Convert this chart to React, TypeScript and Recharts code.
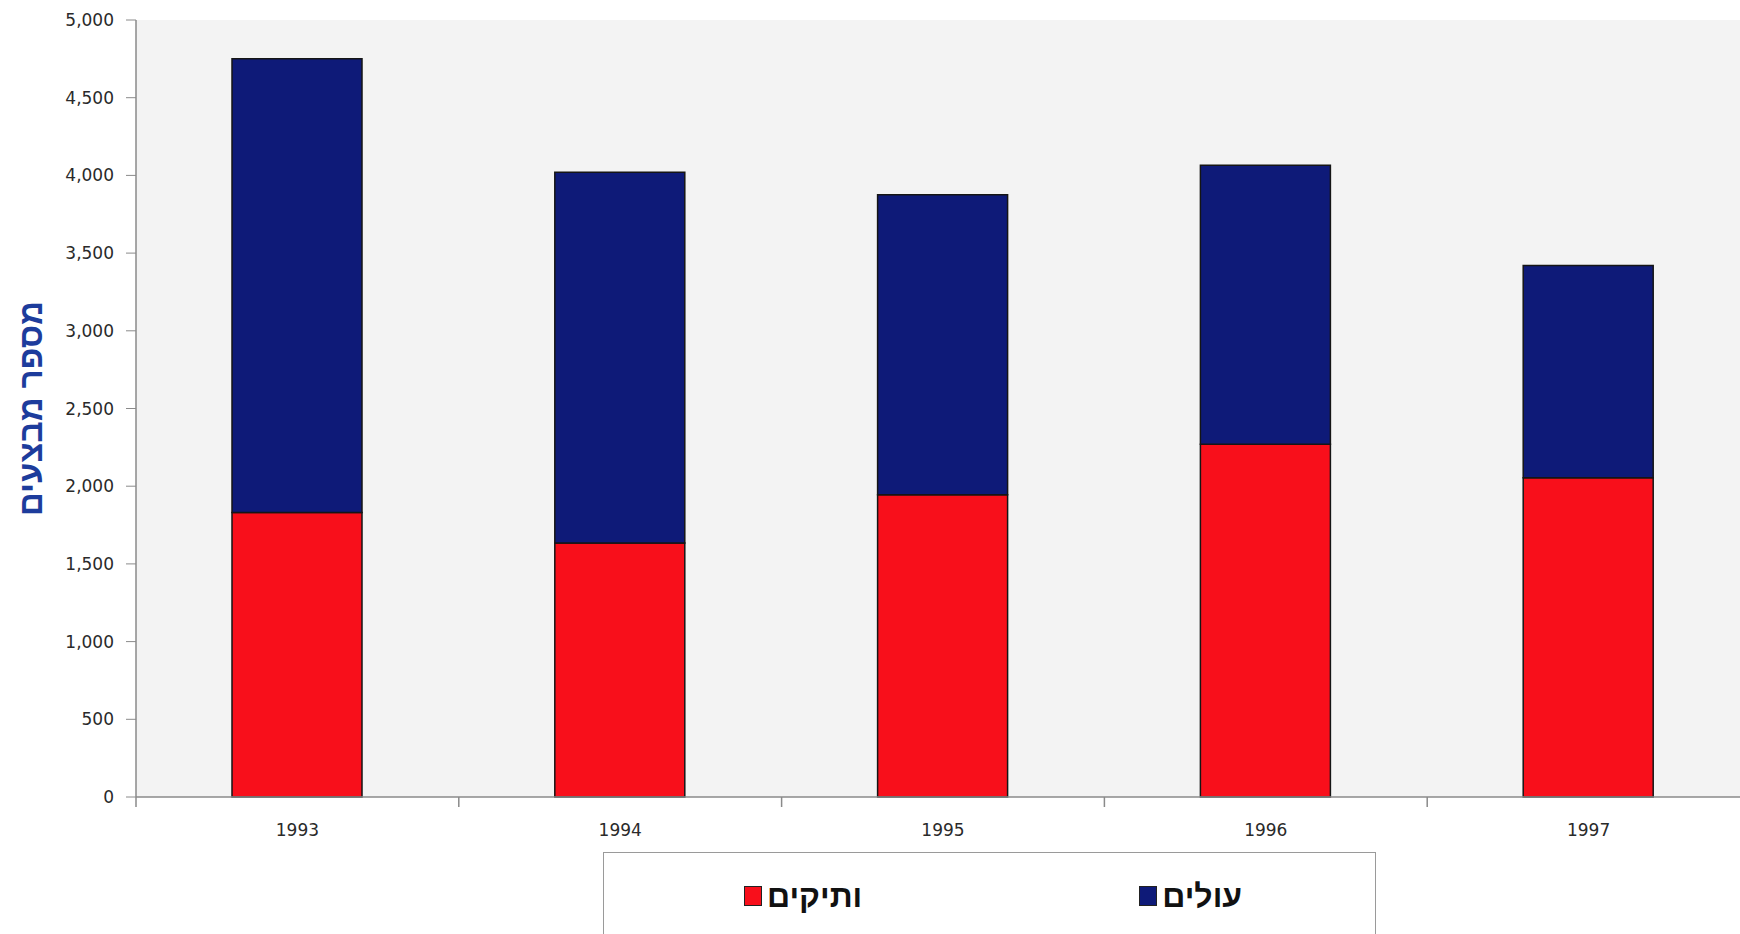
import React from 'react';
import { BarChart, Bar, XAxis, YAxis, CartesianGrid } from 'recharts';

const years = ['1993', '1994', '1995', '1996', '1997'];
const veterans = [1830, 1635, 1945, 2270, 2055];
const immigrants = [2920, 2385, 1930, 1795, 1365];
const yTicks = [0, 500, 1000, 1500, 2000, 2500, 3000, 3500, 4000, 4500, 5000];

const series = [
  { key: 'veterans', name: 'ותיקים', color: '#f80f1b' },
  { key: 'immigrants', name: 'עולים', color: '#0e1a78' },
];

const data = years.map((year, i) => ({
  year,
  veterans: veterans[i],
  immigrants: immigrants[i],
}));

const AXIS_COLOR = '#8a8a8a';
const X_TICK_SIZE = 10;
const X_TICK_MARGIN = 17;

const tickFont = { fontFamily: '"DejaVu Sans", Verdana, sans-serif', fontSize: 17, fill: '#2a2a2a' };

// year label centred under the bar, tick mark on the boundary between years
const YearTick = (props: any) => {
  const { x, y, payload, width, visibleTicksCount } = props;
  const half = payload && payload.offset > 0 ? payload.offset : width / visibleTicksCount / 2;
  const axisY = y - X_TICK_SIZE - X_TICK_MARGIN;
  const edgeX = x - half;
  return (
    <g>
      <line x1={edgeX} y1={axisY} x2={edgeX} y2={axisY + X_TICK_SIZE} stroke={AXIS_COLOR} strokeWidth={1.5} />
      <text x={x} y={y} dy="0.71em" textAnchor="middle" {...tickFont}>
        {payload.value}
      </text>
    </g>
  );
};

const Legend = () => (
  <div
    style={{
      position: 'absolute',
      left: 603,
      top: 852,
      width: 773,
      height: 100,
      border: '1px solid #9a9a9a',
      background: '#fff',
      boxSizing: 'border-box',
      display: 'flex',
      alignItems: 'flex-start',
      paddingLeft: 140,
      paddingTop: 26,
      gap: 277,
    }}
  >
    {series.map((s) => (
      <div key={s.key} style={{ display: 'flex', alignItems: 'center', gap: 5 }}>
        <div
          style={{
            width: 18,
            height: 20,
            background: s.color,
            border: '1px solid #222',
            boxSizing: 'border-box',
          }}
        />
        <span
          style={{
            fontFamily: '"Liberation Sans", Arial, sans-serif',
            fontWeight: 'bold',
            fontSize: 32,
            color: '#111',
            lineHeight: '34px',
          }}
        >
          {s.name}
        </span>
      </div>
    ))}
  </div>
);

export default function App() {
  return (
    <div style={{ position: 'absolute', left: 0, top: 0, width: 1740, height: 934, background: '#fff', overflow: 'hidden' }}>
      <BarChart
        width={1740}
        height={934}
        data={data}
        margin={{ top: 20, right: -10, left: 0, bottom: 96 }}
        barSize={130}
      >
        <CartesianGrid horizontal={false} vertical={false} fill="#f3f3f3" />
        <XAxis
          dataKey="year"
          axisLine={{ stroke: AXIS_COLOR, strokeWidth: 1.5 }}
          tickLine={false}
          tickSize={X_TICK_SIZE}
          tickMargin={X_TICK_MARGIN}
          tick={<YearTick />}
          interval={0}
          height={41}
        />
        <YAxis
          width={136}
          domain={[0, 5000]}
          ticks={yTicks}
          interval={0}
          tickFormatter={(v: number) => v.toLocaleString('en-US')}
          tick={tickFont}
          tickSize={10}
          tickMargin={12}
          axisLine={{ stroke: AXIS_COLOR, strokeWidth: 1.5 }}
          tickLine={{ stroke: AXIS_COLOR }}
          label={{
            value: 'מספר מבצעים',
            angle: -90,
            position: 'insideLeft',
            offset: 30,
            style: {
              textAnchor: 'middle',
              fill: '#1d3c9c',
              fontFamily: '"Liberation Sans", Arial, sans-serif',
              fontWeight: 'bold',
              fontSize: 33,
            },
          }}
        />
        {series.map((s) => (
          <Bar
            key={s.key}
            dataKey={s.key}
            name={s.name}
            stackId="total"
            fill={s.color}
            stroke="#151515"
            strokeWidth={1.5}
            isAnimationActive={false}
          />
        ))}
      </BarChart>
      <Legend />
    </div>
  );
}
